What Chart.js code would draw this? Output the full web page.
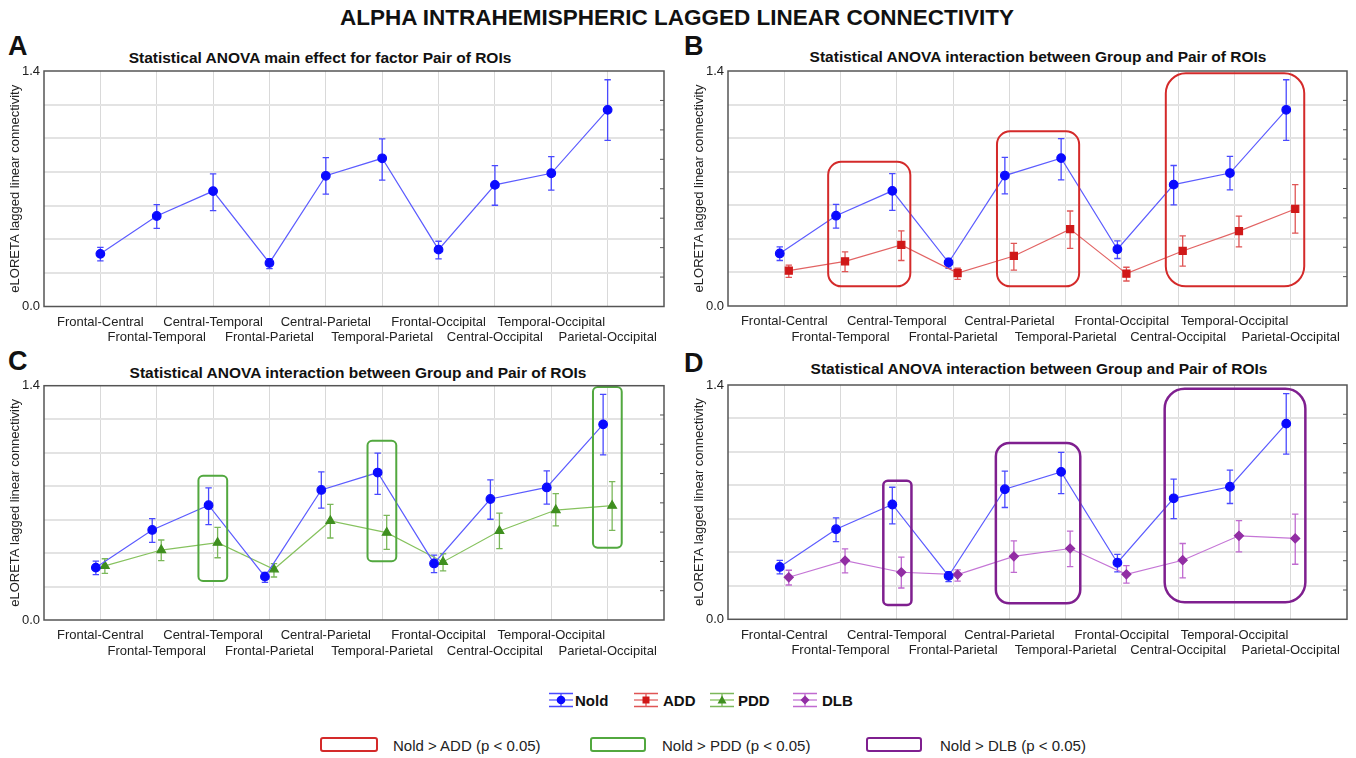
<!DOCTYPE html>
<html>
<head>
<meta charset="utf-8">
<script src="https://cdn.jsdelivr.net/npm/chart.js"></script>
<style>
  body { margin: 0; width: 1356px; height: 758px; background: #fff; position: relative; overflow: hidden;
         font-family: "Liberation Sans", Arial, sans-serif; color: #111; }
  .abs { position: absolute; white-space: nowrap; }
  .ctr { transform: translate(-50%, -50%); }
  .main-title { font-weight: bold; font-size: 22.5px; }
  .letter { font-weight: bold; font-size: 27px; transform: translateY(-50%); }
  .ptitle { font-weight: bold; font-size: 15.5px; }
  .leg1 { font-weight: bold; font-size: 15px; transform: translateY(-50%); }
  .leg2 { font-size: 15px; transform: translateY(-50%); color: #222; }
  canvas { position: absolute; }
</style>
</head>
<body>
<div class="abs ctr main-title" style="left:677px; top:18px;">ALPHA INTRAHEMISPHERIC LAGGED LINEAR CONNECTIVITY</div>

<div class="abs letter" style="left:8px; top:46px;">A</div>
<div class="abs letter" style="left:684px; top:46px;">B</div>
<div class="abs letter" style="left:8px; top:361px;">C</div>
<div class="abs letter" style="left:684px; top:363px;">D</div>

<div class="abs ctr ptitle" style="left:320px; top:58px;">Statistical ANOVA main effect for factor Pair of ROIs</div>
<div class="abs ctr ptitle" style="left:1038px; top:57px;">Statistical ANOVA interaction between Group and Pair of ROIs</div>
<div class="abs ctr ptitle" style="left:358px; top:373px;">Statistical ANOVA interaction between Group and Pair of ROIs</div>
<div class="abs ctr ptitle" style="left:1039px; top:369px;">Statistical ANOVA interaction between Group and Pair of ROIs</div>

<canvas id="chartA" width="680" height="290" style="left:0px; top:64px;"></canvas>
<canvas id="chartB" width="676" height="290" style="left:680px; top:64px;"></canvas>
<canvas id="chartC" width="680" height="290" style="left:0px; top:378px;"></canvas>
<canvas id="chartD" width="676" height="290" style="left:680px; top:378px;"></canvas>

<canvas id="iconNold" width="24" height="16" style="left:549px; top:692px;"></canvas>
<div class="abs leg1" style="left:575px; top:700px;">Nold</div>
<canvas id="iconADD" width="24" height="16" style="left:634px; top:692px;"></canvas>
<div class="abs leg1" style="left:663px; top:700px;">ADD</div>
<canvas id="iconPDD" width="24" height="16" style="left:710px; top:692px;"></canvas>
<div class="abs leg1" style="left:738px; top:700px;">PDD</div>
<canvas id="iconDLB" width="24" height="16" style="left:793px; top:692px;"></canvas>
<div class="abs leg1" style="left:822px; top:700px;">DLB</div>

<div class="abs" style="left:320px; top:737px; width:54px; height:11px; border:2px solid #d42a2a; border-radius:3px;"></div>
<div class="abs leg2" style="left:393px; top:745px;">Nold &gt; ADD (p &lt; 0.05)</div>
<div class="abs" style="left:590px; top:737px; width:52px; height:11px; border:2px solid #52a83f; border-radius:3px;"></div>
<div class="abs leg2" style="left:662px; top:745px;">Nold &gt; PDD (p &lt; 0.05)</div>
<div class="abs" style="left:866px; top:737px; width:52px; height:11px; border:2px solid #7f1f8f; border-radius:3px;"></div>
<div class="abs leg2" style="left:940px; top:745px;">Nold &gt; DLB (p &lt; 0.05)</div>

<script>
const rois = ['Frontal-Central', 'Frontal-Temporal', 'Central-Temporal', 'Frontal-Parietal', 'Central-Parietal',
              'Temporal-Parietal', 'Frontal-Occipital', 'Central-Occipital', 'Temporal-Occipital', 'Parietal-Occipital'];
const yTicks = [0, 0.2, 0.4, 0.6, 0.8, 1.0, 1.2, 1.4];

const noldMean = [0.313, 0.538, 0.686, 0.259, 0.777, 0.881, 0.338, 0.723, 0.792, 1.169];
const noldLow  = [0.271, 0.464, 0.570, 0.225, 0.668, 0.751, 0.283, 0.602, 0.692, 0.987];
const noldHigh = [0.352, 0.606, 0.789, 0.284, 0.885, 0.997, 0.388, 0.837, 0.891, 1.348];

const addMean = [0.211, 0.266, 0.364, 0.196, 0.298, 0.458, 0.193, 0.328, 0.446, 0.578];
const addLow  = [0.171, 0.205, 0.271, 0.159, 0.214, 0.343, 0.149, 0.238, 0.352, 0.434];
const addHigh = [0.244, 0.322, 0.448, 0.225, 0.373, 0.566, 0.231, 0.418, 0.536, 0.723];

const pddMean = [0.323, 0.418, 0.462, 0.303, 0.592, 0.522, 0.347, 0.532, 0.657, 0.683];
const pddLow  = [0.279, 0.355, 0.372, 0.257, 0.490, 0.422, 0.293, 0.426, 0.562, 0.536];
const pddHigh = [0.366, 0.478, 0.554, 0.337, 0.691, 0.625, 0.396, 0.639, 0.755, 0.827];

const dlbMean = [0.251, 0.351, 0.281, 0.267, 0.376, 0.423, 0.269, 0.353, 0.499, 0.483];
const dlbLow  = [0.205, 0.277, 0.187, 0.228, 0.280, 0.315, 0.216, 0.247, 0.403, 0.329];
const dlbHigh = [0.293, 0.421, 0.371, 0.295, 0.469, 0.527, 0.321, 0.453, 0.590, 0.629];

// significant pairs: [first ROI, last ROI, low value, high value] (ROIs numbered 1..10)
const addBoxes = [[2, 3, 0.117, 0.859], [5, 6, 0.117, 1.041], [8, 10, 0.117, 1.386]];
const pddBoxes = [[3, 3, 0.233, 0.862], [6, 6, 0.351, 1.071], [10, 10, 0.432, 1.392]];
const dlbBoxes = [[3, 3, 0.086, 0.828], [5, 6, 0.096, 1.054], [8, 10, 0.102, 1.377]];

Chart.defaults.font.family = '"Liberation Sans", Arial, sans-serif';
Chart.defaults.font.size = 13;
Chart.defaults.color = '#222';

const groupStyle = {
    Nold: { line: '#5c5cff', point: '#0a0aff', err: '#4a4aff', shape: 'circle', radius: 4.3 },
    ADD:  { line: '#e26464', point: '#d01818', err: '#e05555', shape: 'rect', radius: 5 },
    PDD:  { line: '#86c25e', point: '#3f8f1f', err: '#7bb85a', shape: 'triangle', radius: 5 },
    DLB:  { line: '#c576d6', point: '#922ea4', err: '#c06ad0', shape: 'rectRot', radius: 4.5 }
};

function makeDataset(name, mean, low, high, offset) {
    const s = groupStyle[name];
    return {
        label: name,
        data: mean.map((v, i) => ({ x: i + 1 + offset, y: v })),
        errLow: low,
        errHigh: high,
        errColor: s.err,
        borderColor: s.line,
        borderWidth: 1.2,
        backgroundColor: s.point,
        pointBackgroundColor: s.point,
        pointBorderColor: s.point,
        pointStyle: s.shape,
        pointRadius: s.radius,
        tension: 0,
        fill: false
    };
}

const panelDecor = {
    id: 'panelDecor',
    beforeDatasetsDraw(chart) {
        const { ctx, scales: { x, y } } = chart;
        chart.data.datasets.forEach(ds => {
            ctx.save();
            ctx.strokeStyle = ds.errColor;
            ctx.lineWidth = 1.3;
            ds.data.forEach((p, i) => {
                const px = x.getPixelForValue(p.x);
                const top = y.getPixelForValue(ds.errHigh[i]);
                const bot = y.getPixelForValue(ds.errLow[i]);
                ctx.beginPath();
                ctx.moveTo(px, top); ctx.lineTo(px, bot);
                ctx.moveTo(px - 3.2, top); ctx.lineTo(px + 3.2, top);
                ctx.moveTo(px - 3.2, bot); ctx.lineTo(px + 3.2, bot);
                ctx.stroke();
            });
            ctx.restore();
        });
    },
    afterDatasetsDraw(chart, args, opts) {
        const { ctx, chartArea: a, scales: { x, y } } = chart;
        ctx.save();
        // significance boxes
        (opts.boxes || []).forEach(b => {
            const left = x.getPixelForValue(b[0] - opts.padL);
            const right = x.getPixelForValue(b[1] + opts.padR);
            const top = y.getPixelForValue(b[3]);
            const bottom = y.getPixelForValue(b[2]);
            const r = Math.min(0.16 * (right - left), 20);
            ctx.beginPath();
            ctx.roundRect(left, top, right - left, bottom - top, r);
            ctx.strokeStyle = opts.color;
            ctx.lineWidth = opts.width;
            ctx.stroke();
        });
        // frame
        ctx.strokeStyle = '#555';
        ctx.lineWidth = 1.5;
        ctx.strokeRect(a.left, a.top, a.right - a.left, a.bottom - a.top);
        // inward ticks on right side
        ctx.lineWidth = 1;
        ctx.beginPath();
        for (let k = 1; k < 8; k++) {
            const py = y.getPixelForValue(k * 0.175);
            ctx.moveTo(a.right, py);
            ctx.lineTo(a.right - 4, py);
        }
        ctx.stroke();
        ctx.restore();
    }
};

function noPad(axis) {
    axis.paddingTop = 0;
    axis.paddingBottom = 0;
    axis.paddingLeft = 0;
    axis.paddingRight = 0;
}

function buildPanel(id, datasets, g, boxOpts) {
    new Chart(document.getElementById(id), {
        type: 'line',
        data: { datasets: datasets },
        plugins: [panelDecor],
        options: {
            responsive: false,
            animation: false,
            devicePixelRatio: 1,
            layout: { padding: { top: g.padTop, right: g.padRight, left: 0, bottom: 0 } },
            plugins: {
                legend: { display: false },
                tooltip: { enabled: false },
                panelDecor: boxOpts || {}
            },
            scales: {
                x: {
                    type: 'linear',
                    min: 0,
                    max: 11,
                    afterBuildTicks: axis => { axis.ticks = rois.map((r, i) => ({ value: i + 1 })); },
                    afterFit: axis => { axis.height = g.xH; noPad(axis); },
                    ticks: {
                        autoSkip: false,
                        maxRotation: 0,
                        minRotation: 0,
                        padding: 8,
                        color: '#222',
                        callback: (value, index) => index % 2 === 0 ? [rois[index], ''] : ['', rois[index]]
                    },
                    grid: { color: '#d9d9d9', lineWidth: 1, drawTicks: false },
                    border: { display: false }
                },
                y: {
                    min: 0,
                    max: 1.4,
                    afterBuildTicks: axis => { axis.ticks = yTicks.map(v => ({ value: v })); },
                    afterFit: axis => { axis.width = g.yW; noPad(axis); },
                    ticks: {
                        padding: 4,
                        color: '#222',
                        callback: (value, index) => (index === 0 || index === yTicks.length - 1) ? value.toFixed(1) : ''
                    },
                    grid: {
                        drawTicks: false,
                        lineWidth: 2,
                        color: c => (c.index === 0 || c.index === yTicks.length - 1) ? 'rgba(0,0,0,0)' : '#e3e3e3'
                    },
                    border: { display: false },
                    title: {
                        display: true,
                        text: 'eLORETA lagged linear connectivity',
                        color: '#222',
                        padding: { top: g.titlePad, bottom: 0 }
                    }
                }
            }
        }
    });
}

const geomA = { padTop: 7, padRight: 16, xH: 47.5, yW: 44, titlePad: 8 };
const geomB = { padTop: 7, padRight: 9, xH: 48, yW: 48, titlePad: 11.5 };
const geomC = { padTop: 7.7, padRight: 16, xH: 48, yW: 44, titlePad: 8 };
const geomD = { padTop: 7, padRight: 9, xH: 48.7, yW: 48, titlePad: 11.5 };

buildPanel('chartA', [makeDataset('Nold', noldMean, noldLow, noldHigh, 0)], geomA);
buildPanel('chartB', [makeDataset('Nold', noldMean, noldLow, noldHigh, -0.08), makeDataset('ADD', addMean, addLow, addHigh, 0.08)],
    geomB, { boxes: addBoxes, color: '#d42a2a', width: 2, padL: 0.22, padR: 0.24 });
buildPanel('chartC', [makeDataset('Nold', noldMean, noldLow, noldHigh, -0.08), makeDataset('PDD', pddMean, pddLow, pddHigh, 0.08)],
    geomC, { boxes: pddBoxes, color: '#52a83f', width: 2, padL: 0.26, padR: 0.25 });
buildPanel('chartD', [makeDataset('Nold', noldMean, noldLow, noldHigh, -0.08), makeDataset('DLB', dlbMean, dlbLow, dlbHigh, 0.08)],
    geomD, { boxes: dlbBoxes, color: '#7f1f8f', width: 2.5, padL: 0.24, padR: 0.26 });

// legend icons
function drawIcon(id, name) {
    const s = groupStyle[name];
    const ctx = document.getElementById(id).getContext('2d');
    ctx.strokeStyle = s.err;
    ctx.lineWidth = 1.3;
    ctx.beginPath();
    ctx.moveTo(0, 1.5); ctx.lineTo(24, 1.5);
    ctx.moveTo(0, 14.5); ctx.lineTo(24, 14.5);
    ctx.moveTo(12, 1.5); ctx.lineTo(12, 14.5);
    ctx.stroke();
    ctx.strokeStyle = s.line;
    ctx.beginPath();
    ctx.moveTo(0, 8); ctx.lineTo(24, 8);
    ctx.stroke();
    ctx.fillStyle = s.point;
    ctx.beginPath();
    if (s.shape === 'circle') ctx.arc(12, 8, 4.3, 0, Math.PI * 2);
    else if (s.shape === 'rect') ctx.rect(8.5, 4.5, 7, 7);
    else if (s.shape === 'triangle') { ctx.moveTo(12, 3.5); ctx.lineTo(16.5, 11.5); ctx.lineTo(7.5, 11.5); ctx.closePath(); }
    else { ctx.moveTo(12, 3.5); ctx.lineTo(16.5, 8); ctx.lineTo(12, 12.5); ctx.lineTo(7.5, 8); ctx.closePath(); }
    ctx.fill();
}
drawIcon('iconNold', 'Nold');
drawIcon('iconADD', 'ADD');
drawIcon('iconPDD', 'PDD');
drawIcon('iconDLB', 'DLB');
</script>
</body>
</html>
